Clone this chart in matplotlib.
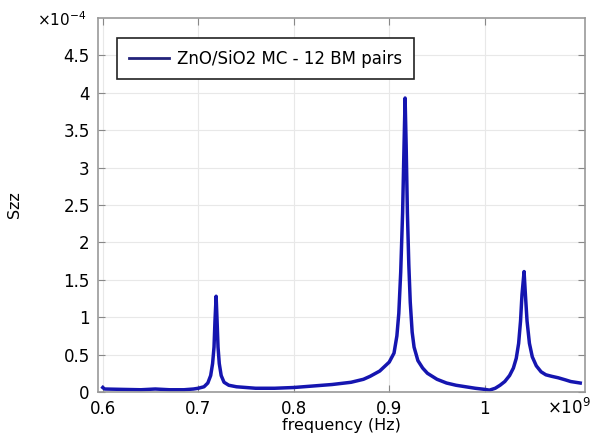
import matplotlib
matplotlib.use("Agg")
import matplotlib.pyplot as plt

# frequency in units of 1e9 Hz, Szz in units of 1e-4
freq = [0.600, 0.602, 0.620, 0.640, 0.655, 0.670, 0.685, 0.695, 0.700,
        0.706, 0.710, 0.713, 0.715, 0.7165, 0.7175, 0.7187, 0.7197, 0.7207,
        0.722, 0.724, 0.727, 0.732, 0.740, 0.760, 0.780, 0.800, 0.820, 0.840,
        0.860, 0.873, 0.880, 0.890, 0.900, 0.905, 0.908, 0.910, 0.912, 0.914,
        0.9155, 0.9166, 0.9177, 0.919, 0.9205, 0.922, 0.924, 0.926, 0.930,
        0.935, 0.940, 0.950, 0.960, 0.970, 0.980, 0.990, 1.000, 1.005, 1.011,
        1.016, 1.021, 1.026, 1.030, 1.033, 1.0355, 1.0375, 1.039, 1.0412,
        1.0426, 1.0443, 1.0468, 1.0498, 1.054, 1.059, 1.064, 1.070, 1.077,
        1.085, 1.090, 1.095, 1.100]
szz = [0.06, 0.04, 0.035, 0.03, 0.04, 0.03, 0.03, 0.04, 0.05,
       0.07, 0.12, 0.22, 0.38, 0.60, 0.95, 1.28, 0.95, 0.60,
       0.38, 0.22, 0.13, 0.09, 0.07, 0.05, 0.05, 0.06, 0.08, 0.10,
       0.13, 0.17, 0.21, 0.28, 0.40, 0.52, 0.75, 1.05, 1.60, 2.40,
       3.30, 3.93, 3.30, 2.40, 1.70, 1.20, 0.80, 0.60, 0.42,
       0.32, 0.25, 0.17, 0.12, 0.09, 0.07, 0.05, 0.035, 0.025, 0.05,
       0.09, 0.14, 0.22, 0.32, 0.45, 0.65, 0.95, 1.30, 1.61,
       1.30, 0.95, 0.65, 0.47, 0.35, 0.27, 0.23, 0.21, 0.19,
       0.16, 0.14, 0.13, 0.12]

xticks = [0.6, 0.7, 0.8, 0.9, 1.0]
yticks = [0, 0.5, 1, 1.5, 2, 2.5, 3, 3.5, 4, 4.5]
series_label = "ZnO/SiO2 MC - 12 BM pairs"

fig = plt.figure(figsize=(5.91, 4.36), dpi=100)
ax = fig.add_axes([98 / 591, 1 - 392 / 436, 487 / 591, 374 / 436])

ax.plot(freq, szz, color="#1515b0", lw=2.5, label=series_label)

ax.set_xlim(0.595, 1.105)
ax.set_ylim(0, 5)
ax.set_xticks(xticks)
ax.set_yticks(yticks)
ax.set_xticklabels(["%g" % t for t in xticks])
ax.set_yticklabels(["%g" % t for t in yticks])
ax.grid(True, color="#e8e8e8", lw=0.8)
ax.tick_params(direction="in", length=5, color="#888888", labelsize=12,
               top=True, right=True, pad=6)
ax.tick_params(axis="x", pad=6)
for s in ax.spines.values():
    s.set_color("#999999")
    s.set_linewidth(1.2)

ax.set_xlabel("frequency (Hz)", fontsize=11.5, labelpad=0)
ax.set_ylabel("Szz", fontsize=11.5, labelpad=30)

fig.text(37 / 591, 1 - 20 / 436, r"$\times10^{-4}$", fontsize=11, va="center")
fig.text(547 / 591, 1 - 408 / 436, r"$\times10^{9}$", fontsize=12, va="center")

leg = ax.legend(loc="upper left", bbox_to_anchor=(0.039, 0.9465), fontsize=12,
                fancybox=False, framealpha=1, edgecolor="#222222",
                handlelength=2.4, handletextpad=0.5, borderpad=0.7,
                borderaxespad=0)
leg.get_frame().set_linewidth(1.2)
leg.get_lines()[0].set_linewidth(2)
leg.get_lines()[0].set_color("#22227a")

fig.savefig("out.png", dpi=100)
